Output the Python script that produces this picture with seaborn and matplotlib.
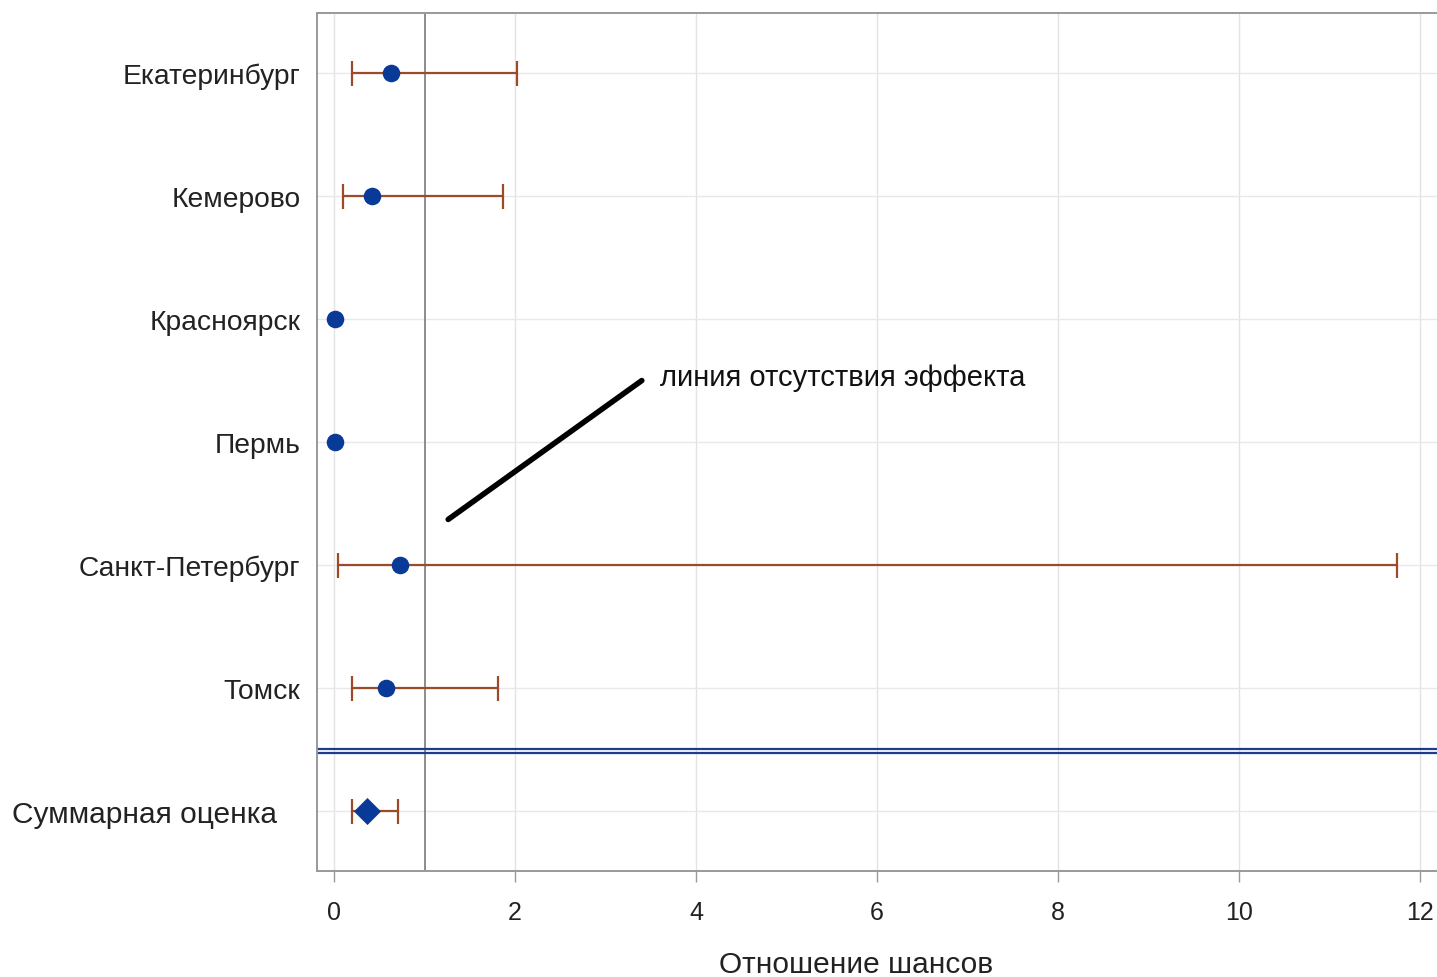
import matplotlib
matplotlib.use("Agg")
import matplotlib.pyplot as plt
import matplotlib.transforms as mtransforms
import numpy as np
import pandas as pd
import seaborn as sns

# ---- data ----
cities = ["Екатеринбург", "Кемерово", "Красноярск", "Пермь", "Санкт-Петербург", "Томск"]
city_or = [0.63, 0.42, 0.01, 0.01, 0.73, 0.57]
city_lo = [0.20, 0.10, np.nan, np.nan, 0.04, 0.20]
city_hi = [2.02, 1.87, np.nan, np.nan, 11.75, 1.81]
summary_label = "Суммарная оценка"
summary_or = 0.36
summary_lo = 0.20
summary_hi = 0.71
xticks = [0, 2, 4, 6, 8, 10, 12]
xlabel = "Отношение шансов"
annotation_text = "линия отсутствия эффекта"

sns.set_theme(style="white")
plt.rcParams["font.family"] = ["Liberation Sans", "DejaVu Sans"]

fig = plt.figure(figsize=(14.37, 9.78), dpi=100)
ax = fig.add_axes([317 / 1437, 1 - 872 / 978, 0.7927, (872 - 14) / 978])

df = pd.DataFrame({"city": cities, "or": city_or, "lo": city_lo, "hi": city_hi})
df["pos"] = np.arange(len(cities))
sum_pos = len(cities)

# grid
for x in xticks:
    ax.axvline(x, color="#e3e3e3", lw=1.0, zorder=0)
for y in list(df["pos"]) + [sum_pos]:
    ax.axhline(y, color="#e8e8e8", lw=1.0, zorder=0)

# reference line
ax.axvline(1, color="#8c8c8c", lw=1.4, zorder=1)

# CIs
ci_color = "#9b4a2a"
m = df["lo"].notna()
ax.errorbar(df.loc[m, "or"], df.loc[m, "pos"],
            xerr=[df.loc[m, "or"] - df.loc[m, "lo"], df.loc[m, "hi"] - df.loc[m, "or"]],
            fmt="none", ecolor=ci_color, elinewidth=1.6, capsize=9, capthick=1.6, zorder=2)
ax.errorbar([summary_or], [sum_pos],
            xerr=[[summary_or - summary_lo], [summary_hi - summary_or]],
            fmt="none", ecolor=ci_color, elinewidth=1.6, capsize=9, capthick=1.6, zorder=2)

# points
pt_color = "#0a3a97"
sns.scatterplot(data=df, x="or", y="pos", ax=ax, color=pt_color, s=160,
                edgecolor=pt_color, linewidth=0, zorder=3, legend=False)
sns.scatterplot(x=[summary_or], y=[sum_pos], ax=ax, marker="D", color=pt_color,
                s=190, edgecolor=pt_color, linewidth=0, zorder=3, legend=False)

# double separator line
ax.axhline(sum_pos - 0.5, color="#1d3c8c", lw=1.6, zorder=2)
ax.axhline(sum_pos - 0.47, color="#1d3c8c", lw=1.6, zorder=2)

# annotation
ax.plot([1.26, 3.40], [3.63, 2.50], color="black", lw=4, solid_capstyle="round", zorder=4)
ax.text(3.60, 2.47, annotation_text, fontsize=21, va="center", ha="left", color="#111111")

ax.set_xlim(-0.19, 12.4)
ax.set_ylim(6.49, -0.49)
ax.set_xticks(xticks)
ax.set_xticklabels([str(t) for t in xticks], fontsize=18)
ax.set_yticks(df["pos"])
ax.set_yticklabels(cities, fontsize=20.3)
ax.tick_params(axis="y", left=False, length=0, pad=12, colors="#222222")
ax.tick_params(axis="x", bottom=True, length=8, width=1, color="#999999", pad=13,
               labelcolor="#222222")
ax.set_xlabel(xlabel, fontsize=21.5, color="#222222")
ax.xaxis.set_label_coords(0.473, -0.092)
ax.set_ylabel("")

for side in ["left", "top", "bottom", "right"]:
    ax.spines[side].set_color("#999999")
    ax.spines[side].set_linewidth(1.4)

trans = mtransforms.blended_transform_factory(fig.transFigure, ax.transData)
ax.text(12 / 1437, sum_pos + 0.03, summary_label, transform=trans, fontsize=21.5,
        ha="left", va="center", color="#222222")

fig.savefig("out.png", dpi=100)
